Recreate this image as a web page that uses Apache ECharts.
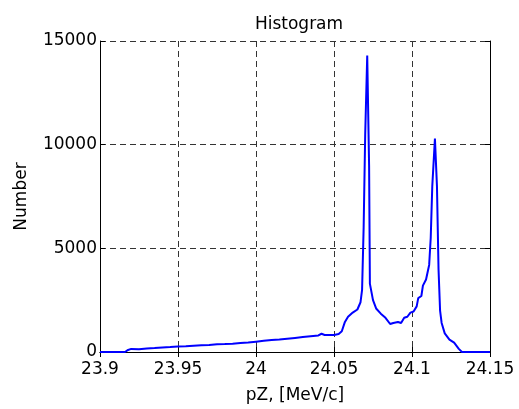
<!DOCTYPE html>
<html>
<head>
<meta charset="utf-8">
<script src="https://cdn.jsdelivr.net/npm/echarts@6/dist/echarts.min.js"></script>
<style>html,body{margin:0;padding:0;background:#fff;}#c{width:519px;height:409px;}</style>
</head>
<body>
<div id="c"></div>
<script>
var pz = [23.900,23.916,23.918,23.920,23.925,23.930,23.935,23.940,23.945,23.950,23.955,23.960,23.965,23.970,23.975,23.980,23.985,23.990,23.995,24.000,24.005,24.010,24.015,24.020,24.025,24.030,24.035,24.040,24.042,24.044,24.050,24.053,24.055,24.057,24.059,24.062,24.065,24.067,24.068,24.069,24.0700,24.0713,24.0725,24.073,24.075,24.077,24.080,24.083,24.086,24.088,24.091,24.093,24.095,24.097,24.099,24.101,24.103,24.104,24.106,24.107,24.109,24.111,24.112,24.113,24.1147,24.116,24.117,24.118,24.119,24.121,24.124,24.127,24.130,24.132,24.150];
var counts = [0,0,100,150,130,170,190,220,240,270,280,300,320,340,370,380,400,430,460,500,540,580,600,640,680,720,760,800,880,820,820,870,1000,1450,1700,1900,2050,2400,3000,6000,10500,14300,9000,3300,2500,2100,1850,1650,1350,1400,1450,1400,1650,1700,1900,1950,2200,2600,2700,3200,3500,4200,5500,8000,10300,8000,4000,2000,1400,900,600,450,150,0,0];
var xTicks = [23.9, 24.15, 0.05];
var yTicks = [0, 15000, 5000];

var data = pz.map(function(x, i){ return [x, counts[i]]; });
var font = 'DejaVu Sans, sans-serif';
var fs = 17;
var grid = {left:100, right:29, top:41, bottom:54};
var dash = {color:'#333', type:[6,4], width:1};
var chart = echarts.init(document.getElementById('c'));
chart.setOption({
  animation:false,
  title:{text:'Histogram', left:294, top:11, textAlign:'center', textStyle:{fontFamily:font, fontSize:fs, fontWeight:'normal', color:'#000'}},
  grid:grid,
  xAxis:[{
    type:'value', min:xTicks[0], max:xTicks[1], interval:xTicks[2],
    name:'pZ, [MeV/c]', nameLocation:'middle', nameGap:35,
    nameTextStyle:{fontFamily:font, fontSize:fs, color:'#000'},
    axisLine:{lineStyle:{color:'#000', width:1}},
    axisTick:{inside:true, length:5, lineStyle:{color:'#000'}},
    axisLabel:{fontFamily:font, fontSize:fs, color:'#000', margin:9,
      formatter:function(v){return String(parseFloat(v.toFixed(2)));}},
    splitLine:{show:true, lineStyle:dash}
  },{
    type:'value', position:'top', min:xTicks[0], max:xTicks[1], interval:xTicks[2],
    axisLine:{show:true, lineStyle:{color:'#000', width:1}},
    axisTick:{inside:true, length:5, lineStyle:{color:'#000'}},
    axisLabel:{show:false}, splitLine:{show:false}
  }],
  yAxis:[{
    type:'value', min:yTicks[0], max:yTicks[1], interval:yTicks[2],
    name:'Number', nameLocation:'middle', nameGap:70, nameRotate:90,
    nameTextStyle:{fontFamily:font, fontSize:fs, color:'#000'},
    axisLine:{show:true, lineStyle:{color:'#000', width:1}},
    axisTick:{show:true, inside:true, length:5, lineStyle:{color:'#000'}},
    axisLabel:{fontFamily:font, fontSize:fs, color:'#000', margin:3,
      formatter:function(v){return String(v);}},
    splitLine:{show:true, lineStyle:dash}
  },{
    type:'value', position:'right', min:yTicks[0], max:yTicks[1], interval:yTicks[2],
    axisLine:{show:true, lineStyle:{color:'#000', width:1}},
    axisTick:{show:true, inside:true, length:5, lineStyle:{color:'#000'}},
    axisLabel:{show:false}, splitLine:{show:false}
  }],
  series:[{
    type:'line', data:data, showSymbol:false, symbol:'none',
    lineStyle:{color:'#0000ff', width:2}, z:3
  }]
});
</script>
</body>
</html>
